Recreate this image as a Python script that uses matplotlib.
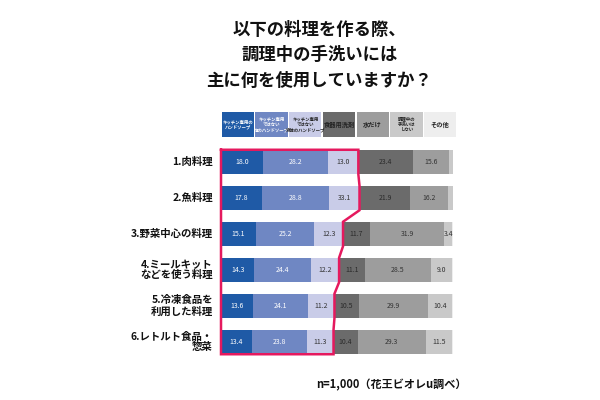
import matplotlib
matplotlib.use("Agg")
import matplotlib.pyplot as plt
import numpy as np

plt.rcParams['font.family'] = ['Noto Sans CJK JP', 'DejaVu Sans']

title = "以下の料理を作る際、\n調理中の手洗いには\n主に何を使用していますか？"
note = "n=1,000（花王ビオレu調べ）"

dishes = ["1.肉料理", "2.魚料理", "3.野菜中心の料理", "4.ミールキット\nなどを使う料理",
          "5.冷凍食品を\n利用した料理", "6.レトルト食品・\n惣菜"]
answers = ["キッチン専用の\nハンドソープ", "キッチン専用\nではない\n泡のハンドソープ",
           "キッチン専用\nではない\n液体のハンドソープ", "食器用洗剤", "水だけ",
           "調理中の\n手洗いは\nしない", "その他"]

# share (%) per answer, one list per answer, in dish order
kitchen_soap = [18.0, 17.8, 15.1, 14.3, 13.6, 13.4]
other_soap_a = [28.2, 28.8, 25.2, 24.4, 24.1, 23.8]
other_soap_b = [13.0, 13.1, 12.3, 12.2, 11.2, 11.3]
dish_soap = [23.4, 21.9, 11.7, 11.1, 10.5, 10.4]
water_only = [15.6, 16.2, 31.9, 28.5, 29.9, 29.3]
no_wash = [1.8, 2.2, 3.4, 9.0, 10.4, 11.5]
others = [0.0, 0.0, 0.4, 0.5, 0.3, 0.3]

# the source prints 33.1 for 2.魚料理 / third column
label_fix = {(1, 2): "33.1"}

series = [kitchen_soap, other_soap_a, other_soap_b, dish_soap, water_only, no_wash, others]
colors = ['#1f5aa6', '#6f87c3', '#c9cce8', '#6b6b6b', '#9d9d9d', '#c9c9c9', '#eeeeee']
text_colors = ['white', 'white', '#333333', '#2a2a2a', '#333333', '#333333', '#333333']

fig = plt.figure(figsize=(6, 4), dpi=100)
ax = fig.add_axes([221 / 600, 0.1, 232 / 600, 0.54])

y = np.arange(len(dishes))
h = 0.68
left = np.zeros(len(dishes))
for i, vals in enumerate(series):
    vals = np.array(vals)
    ax.barh(y, vals, left=left, height=h, color=colors[i], edgecolor='none')
    for j, v in enumerate(vals):
        if v >= 3:
            txt = label_fix.get((j, i), f"{v:.1f}")
            ax.text(left[j] + v / 2, y[j], txt, ha='center', va='center',
                    fontsize=5, color=text_colors[i])
    left += vals

# pink outline around the hand soap columns
cum3 = np.array(kitchen_soap) + np.array(other_soap_a) + np.array(other_soap_b)
px = [0, cum3[0]]
py = [y[0] - h / 2, y[0] - h / 2]
for j in range(len(dishes)):
    px += [cum3[j], cum3[j]]
    py += [y[j] - h / 2, y[j] + h / 2]
px += [0, 0]
py += [y[-1] + h / 2, y[0] - h / 2]
ax.plot(px, py, color='#e5195e', linewidth=1.8, clip_on=False, solid_joinstyle='miter')

ax.set_xlim(0, 100)
ax.set_ylim(len(dishes) - 0.5, -0.5)
ax.axis('off')

for j, d in enumerate(dishes):
    ax.text(-3.5, y[j], d, ha='right', va='center', fontsize=7.5, fontweight='bold',
            linespacing=1.1, color='#111111')

# header boxes
hax = fig.add_axes([221 / 600, 1 - 137 / 400, 236 / 600, 25 / 400])
hax.set_xlim(0, len(answers))
hax.set_ylim(0, 1)
hax.axis('off')
for i, a in enumerate(answers):
    hax.add_patch(plt.Rectangle((i + 0.02, 0), 0.96, 1, color=colors[i], lw=0))
    fs = 4.5 if '\n' not in a else 3.2
    hax.text(i + 0.5, 0.5, a, ha='center', va='center', fontsize=fs,
             color=text_colors[i] if i < 2 else '#222222', linespacing=1.1,
             fontweight='bold')

fig.text(0.532, 0.862, title, ha='center', va='center', fontsize=12.5,
         fontweight='bold', linespacing=1.55, color='#111111')
fig.text(0.652, 0.038, note, ha='center', va='center', fontsize=8,
         fontweight='bold', color='#111111')

fig.savefig("out.png", dpi=100, facecolor='white')
